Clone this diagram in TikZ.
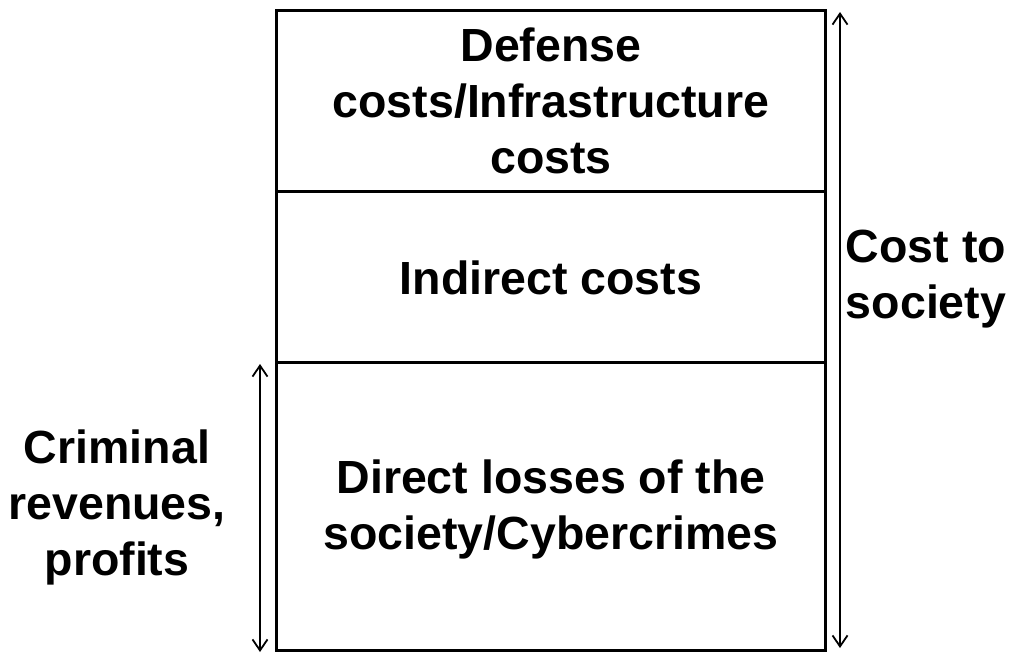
\documentclass[tikz,border=0pt]{standalone}
\usepackage{fontspec}
\setmainfont{Liberation Sans}
\usetikzlibrary{arrows.meta}
\begin{document}
\begin{tikzpicture}[x=1pt,y=-1pt,
  boxline/.style={line width=3pt},
  lbl/.style={align=center,font=\fontsize{46.5}{56}\selectfont\bfseries,inner sep=0pt},
  dim/.style={line width=1.8pt,{Straight Barb[length=11pt,width=15pt,line width=1.8pt]}-{Straight Barb[length=11pt,width=15pt,line width=1.8pt]}}]
\useasboundingbox (0,0) rectangle (1011,654);
\draw[boxline] (276,10) rectangle (825,650);
\draw[boxline] (276,191) -- (825,191);
\draw[boxline] (276,362) -- (825,362);
\node[lbl] (top) at (551,101) {Defense\\costs/Infrastructure\\costs};
\node[lbl] (mid) at (551,278) {Indirect costs};
\node[lbl] (bot) at (551,509) {Direct losses of the\\society/Cybercrimes};
\coordinate (ra) at (840,12);
\coordinate (rb) at (840,648);
\coordinate (la) at (260,364);
\coordinate (lb) at (260,652);
\draw[dim] (rb) -- (ra);
\draw[dim] (lb) -- (la);
\node[lbl] (cost) at (926,279) {Cost to\\society};
\node[lbl] (crim) at (117,507) {Criminal\\revenues,\\profits};
\end{tikzpicture}
\end{document}
